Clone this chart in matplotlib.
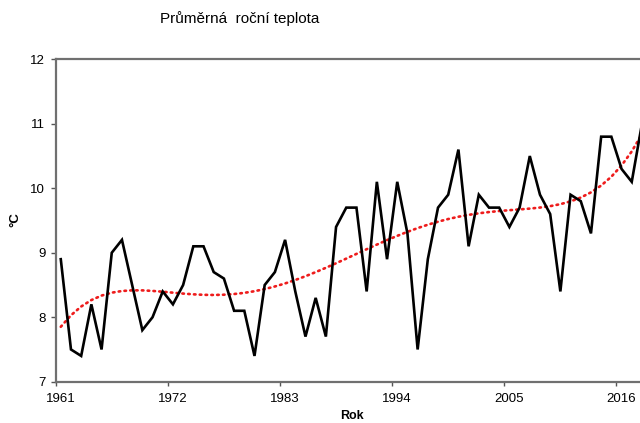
import numpy as np
import matplotlib
matplotlib.use("Agg")
import matplotlib.pyplot as plt

plt.rcParams['font.family'] = ['Liberation Sans', 'DejaVu Sans']

# Annual mean temperature (°C), 1961-2018
years = list(range(1961, 2019))
temps = [8.9, 7.5, 7.4, 8.2, 7.5, 9.0, 9.2, 8.5, 7.8, 8.0,
         8.4, 8.2, 8.5, 9.1, 9.1, 8.7, 8.6, 8.1, 8.1, 7.4,
         8.5, 8.7, 9.2, 8.4, 7.7, 8.3, 7.7, 9.4, 9.7, 9.7,
         8.4, 10.1, 8.9, 10.1, 9.3, 7.5, 8.9, 9.7, 9.9, 10.6,
         9.1, 9.9, 9.7, 9.7, 9.4, 9.7, 10.5, 9.9, 9.6, 8.4,
         9.9, 9.8, 9.3, 10.8, 10.8, 10.3, 10.1, 11.0]
tick_years = [1961, 1972, 1983, 1994, 2005, 2016]

title = "Průměrná  roční teplota"
xlabel = "Rok"
ylabel = "°C"

x = np.array(years, dtype=float)
y = np.array(temps)

# polynomial trend (5th order)
xc = (x - x.mean()) / x.std()
coef = np.polyfit(xc, y, 5)
trend = np.polyval(coef, xc)

fig = plt.figure(figsize=(6.4, 4.23), dpi=100)
ax = fig.add_axes([0.087, 0.0976, 1.011 - 0.087, 0.8598 - 0.0976])

ax.plot(x, y, color='black', lw=1.9, solid_joinstyle='miter', zorder=3)
ax.plot(x, trend, color='#ee1c1c', lw=1.9, linestyle=(0, (0.6, 1.6)),
        dash_capstyle='round', zorder=2)

ax.set_xlim(1960.5, 2018.5)
ax.set_ylim(7, 12)
ax.set_yticks([7, 8, 9, 10, 11, 12])

# category boundaries carry the tick marks, labels sit under the years
ax.set_xticks([t - 0.5 for t in tick_years])
ax.set_xticklabels([])
ax.set_xticks(tick_years, minor=True)
ax.set_xticklabels([str(t) for t in tick_years], minor=True)
ax.tick_params(axis='x', which='minor', length=0, labelsize=9.5, pad=8)
ax.tick_params(axis='x', which='major', length=3, width=1, color='#555555')
ax.tick_params(axis='y', length=3.5, width=1, color='#555555', labelsize=9.5, pad=4)

for side in ['left', 'top', 'bottom']:
    ax.spines[side].set_color('#707070')
    ax.spines[side].set_linewidth(1.6)
ax.spines['right'].set_visible(False)

fig.text(0.374, 0.957, title, ha='center', va='center', fontsize=11)
fig.text(0.024, 0.48, ylabel, ha='center', va='center', rotation=90,
         fontsize=9.5, fontweight='bold')
fig.text(0.55, 0.002, xlabel, ha='center', va='bottom', fontsize=9,
         fontweight='bold')

fig.savefig('out.png', dpi=100)
